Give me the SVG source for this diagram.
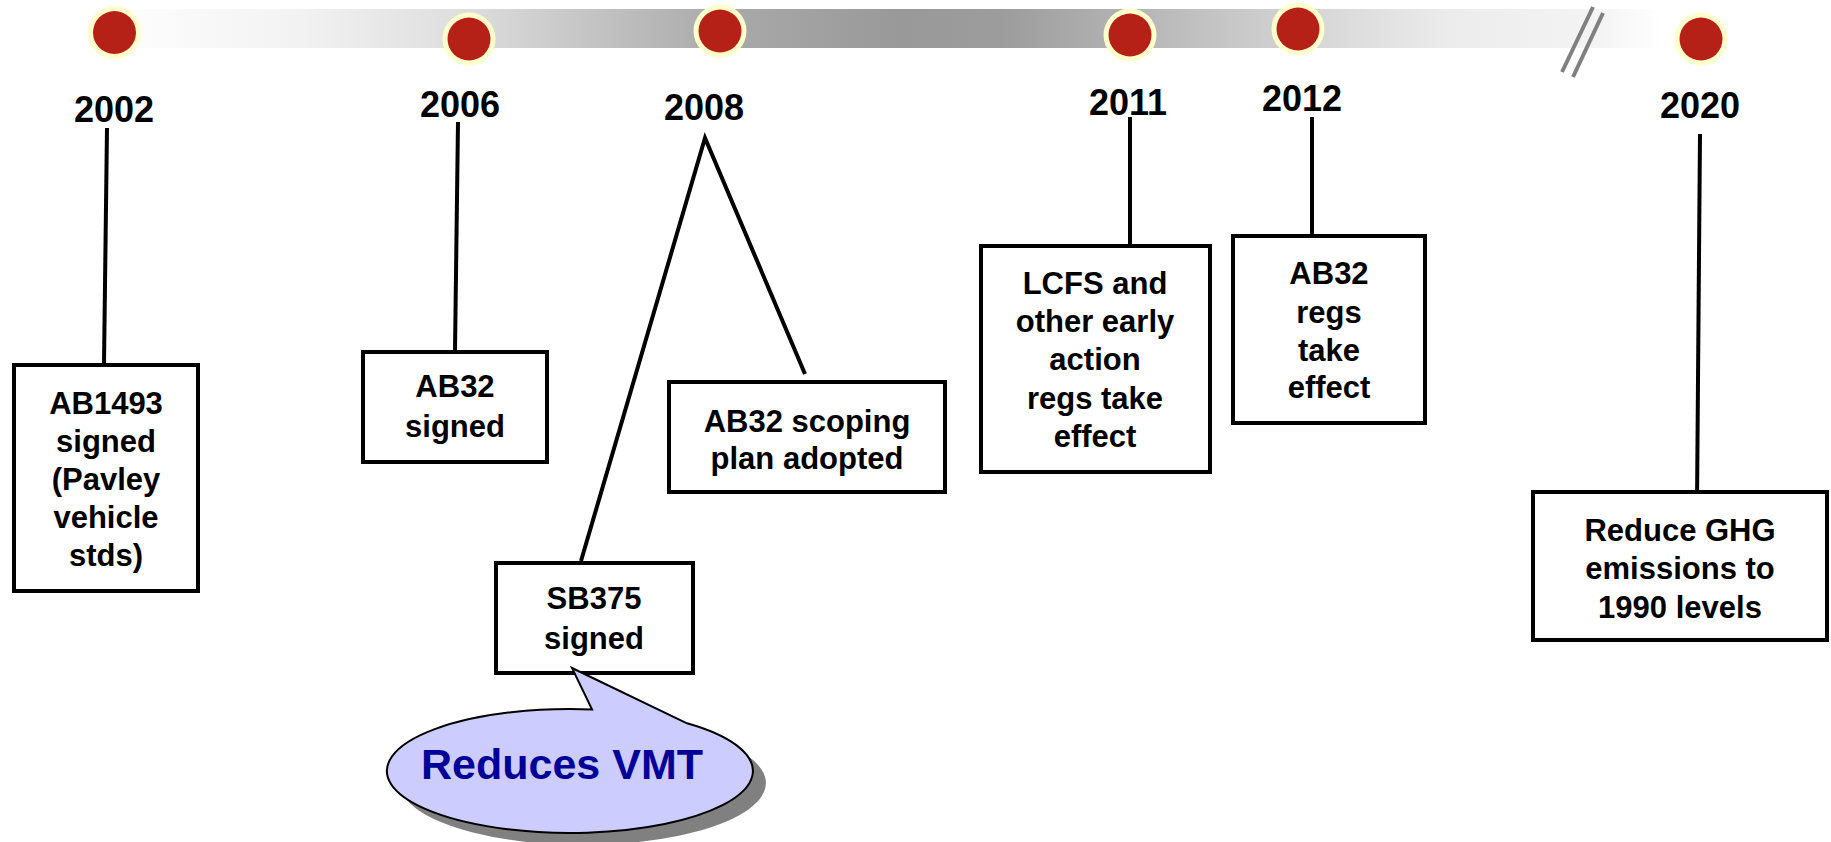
<svg xmlns="http://www.w3.org/2000/svg" width="1831" height="842" viewBox="0 0 1831 842">
<defs>
<linearGradient id="bar" gradientUnits="userSpaceOnUse" x1="100" y1="0" x2="1660" y2="0">
<stop offset="0" stop-color="#ffffff"/>
<stop offset="0.128" stop-color="#f2f2f2"/>
<stop offset="0.237" stop-color="#dddddd"/>
<stop offset="0.397" stop-color="#aaaaaa"/>
<stop offset="0.513" stop-color="#999999"/>
<stop offset="0.577" stop-color="#9c9c9c"/>
<stop offset="0.660" stop-color="#b4b4b4"/>
<stop offset="0.769" stop-color="#d4d4d4"/>
<stop offset="0.865" stop-color="#ececec"/>
<stop offset="0.962" stop-color="#f4f4f4"/>
<stop offset="1" stop-color="#ffffff"/>
</linearGradient>
</defs>
<style>
.yr{font-family:"Liberation Sans",Arial,sans-serif;font-weight:bold;font-size:36px;fill:#000;text-anchor:middle}
.lbl{font-family:"Liberation Sans",Arial,sans-serif;font-weight:bold;font-size:31px;fill:#000;text-anchor:middle}
.box{fill:#fff;stroke:#000;stroke-width:4}
.ln{stroke:#000;stroke-width:4;fill:none}
.dotO{fill:#ffffcc}
.dotI{fill:#b52017}
.brk{stroke:#808080;stroke-width:4}
</style>
<rect x="100" y="9" width="1560" height="39" fill="url(#bar)"/>
<g id="break">
<line class="brk" x1="1593" y1="7" x2="1562" y2="72"/>
<line class="brk" x1="1603" y1="13" x2="1573" y2="77"/>
</g>
<g id="connectors">
<line class="ln" x1="107" y1="128" x2="104" y2="364"/>
<line class="ln" x1="458" y1="122" x2="455" y2="351"/>
<polyline class="ln" points="581,561 705,138 805,374"/>
<line class="ln" x1="1130" y1="117" x2="1130" y2="246"/>
<line class="ln" x1="1312" y1="117" x2="1312" y2="236"/>
<line class="ln" x1="1700" y1="134" x2="1697" y2="504"/>
</g>
<g id="y2002"><circle class="dotO" cx="114.5" cy="32.5" r="26.5"/><circle class="dotI" cx="114.5" cy="32.5" r="21.5"/><text class="yr" x="114" y="122">2002</text></g>
<g id="y2006"><circle class="dotO" cx="469" cy="39" r="26.5"/><circle class="dotI" cx="469" cy="39" r="21.5"/><text class="yr" x="460" y="117">2006</text></g>
<g id="y2008"><circle class="dotO" cx="720" cy="31" r="26.5"/><circle class="dotI" cx="720" cy="31" r="21.5"/><text class="yr" x="704" y="120">2008</text></g>
<g id="y2011"><circle class="dotO" cx="1130" cy="35" r="26.5"/><circle class="dotI" cx="1130" cy="35" r="21.5"/><text class="yr" x="1128" y="115">2011</text></g>
<g id="y2012"><circle class="dotO" cx="1298" cy="29" r="26.5"/><circle class="dotI" cx="1298" cy="29" r="21.5"/><text class="yr" x="1302" y="111">2012</text></g>
<g id="y2020"><circle class="dotO" cx="1701" cy="39" r="26.5"/><circle class="dotI" cx="1701" cy="39" r="21.5"/><text class="yr" x="1700" y="118">2020</text></g>
<g id="ab1493">
<rect class="box" x="14" y="365" width="184" height="226"/>
<text class="lbl"><tspan x="106" y="414">AB1493</tspan><tspan x="106" y="452">signed</tspan><tspan x="106" y="490">(Pavley</tspan><tspan x="106" y="528">vehicle</tspan><tspan x="106" y="566">stds)</tspan></text>
</g>
<g id="ab32signed">
<rect class="box" x="363" y="352" width="184" height="110"/>
<text class="lbl"><tspan x="455" y="397">AB32</tspan><tspan x="455" y="437">signed</tspan></text>
</g>
<g id="sb375">
<rect class="box" x="496" y="563" width="197" height="110"/>
<text class="lbl"><tspan x="594" y="609">SB375</tspan><tspan x="594" y="649">signed</tspan></text>
</g>
<g id="scoping">
<rect class="box" x="669" y="382" width="276" height="110"/>
<text class="lbl"><tspan x="807" y="432">AB32 scoping</tspan><tspan x="807" y="469">plan adopted</tspan></text>
</g>
<g id="lcfs">
<rect class="box" x="981" y="246" width="229" height="226"/>
<text class="lbl"><tspan x="1095" y="294">LCFS and</tspan><tspan x="1095" y="332">other early</tspan><tspan x="1095" y="370">action</tspan><tspan x="1095" y="409">regs take</tspan><tspan x="1095" y="447">effect</tspan></text>
</g>
<g id="ab32regs">
<rect class="box" x="1233" y="236" width="192" height="187"/>
<text class="lbl"><tspan x="1329" y="284">AB32</tspan><tspan x="1329" y="323">regs</tspan><tspan x="1329" y="361">take</tspan><tspan x="1329" y="398">effect</tspan></text>
</g>
<g id="ghg">
<rect class="box" x="1533" y="492" width="294" height="148"/>
<text class="lbl"><tspan x="1680" y="541">Reduce GHG</tspan><tspan x="1680" y="579">emissions to</tspan><tspan x="1680" y="618">1990 levels</tspan></text>
</g>
<g id="callout">
<path d="M 592 709.4 A 183 62 0 1 0 687 723.3 L 572 668 Z" fill="#808080" transform="translate(13,12)"/>
<path d="M 592 709.4 A 183 62 0 1 0 687 723.3 L 572 668 Z" fill="#ccccff" stroke="#000" stroke-width="2"/>
<text x="562" y="779" font-family="Liberation Sans, Arial, sans-serif" font-weight="bold" font-size="43" fill="#000099" text-anchor="middle">Reduces VMT</text>
</g>
</svg>
